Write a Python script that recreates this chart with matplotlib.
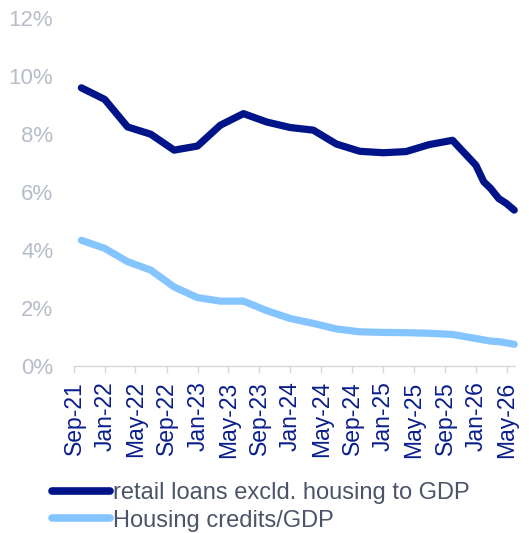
import pandas as pd
import matplotlib
matplotlib.use("Agg")
import matplotlib.pyplot as plt
import matplotlib.dates as mdates
from matplotlib.ticker import FuncFormatter

plt.rcParams['font.family'] = ['Liberation Sans', 'DejaVu Sans']

# quarter-end observations, monthly from Dec-25
dates = pd.to_datetime([
    "2021-09-30", "2021-12-31", "2022-03-31", "2022-06-30", "2022-09-30",
    "2022-12-31", "2023-03-31", "2023-06-30", "2023-09-30", "2023-12-31",
    "2024-03-31", "2024-06-30", "2024-09-30", "2024-12-31", "2025-03-31",
    "2025-06-30", "2025-09-30", "2025-12-31", "2026-01-31", "2026-02-28",
    "2026-03-31", "2026-04-30", "2026-05-31",
])

# % of GDP
retail_ex_housing = [
    9.60, 9.20, 8.25, 8.00, 7.45,
    7.59, 8.31, 8.71, 8.42, 8.23,
    8.14, 7.66, 7.41, 7.36, 7.40,
    7.64, 7.79, 6.93, 6.36, 6.12,
    5.78, 5.61, 5.38,
]
housing = [
    4.34, 4.06, 3.60, 3.31, 2.73,
    2.36, 2.24, 2.24, 1.91, 1.64,
    1.47, 1.28, 1.18, 1.16, 1.15,
    1.13, 1.09, 0.95, 0.90, 0.86,
    0.84, 0.80, 0.75,
]

series_labels = ["retail loans excld. housing to GDP", "Housing credits/GDP"]
series_colors = ["#001489", "#85C5FF"]

fig = plt.figure(figsize=(5.29, 5.33), dpi=100)
ax = fig.add_axes([0.1399, 0.3133, 0.8336, 0.6524])

for vals, lab, col in zip([retail_ex_housing, housing], series_labels, series_colors):
    ax.plot(dates, vals, color=col, lw=5.2, label=lab, clip_on=False,
            solid_capstyle='round', solid_joinstyle='round')

ax.set_ylim(0, 12)
ax.set_yticks(range(0, 13, 2))
ax.yaxis.set_major_formatter(FuncFormatter(lambda v, p: f"{v:.0f}%"))

ax.set_xlim(pd.Timestamp("2021-09-01"), pd.Timestamp("2026-06-03"))
ax.xaxis.set_major_locator(mdates.MonthLocator(bymonth=[1, 5, 9]))
ax.xaxis.set_major_formatter(mdates.DateFormatter("%b-%y"))

for side in ["top", "right", "left"]:
    ax.spines[side].set_visible(False)
ax.spines["bottom"].set_color("#D3D7DD")
ax.spines["bottom"].set_linewidth(1.0)

ax.tick_params(axis='y', length=0, pad=15, labelsize=16, labelcolor="#B6BDC9")
ax.tick_params(axis='x', length=5, width=1.0, color="#D3D7DD", pad=6,
               labelsize=16.5, labelcolor="#0A1E8C", labelrotation=90)

leg = fig.legend(loc='upper left', bbox_to_anchor=(0.098, 0.096), frameon=False,
                 fontsize=17, handlelength=2.45, handletextpad=0.12,
                 labelspacing=0.25, borderpad=0, borderaxespad=0)
for t in leg.get_texts():
    t.set_color("#4B5468")
for h in leg.get_lines():
    h.set_linewidth(5.5)

fig.savefig("out.png", dpi=100)
